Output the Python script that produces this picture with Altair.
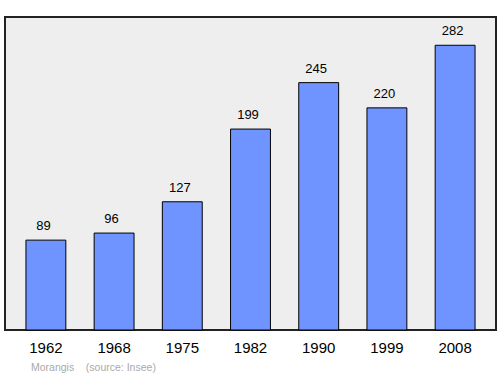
import altair as alt
import pandas as pd

years = ["1962", "1968", "1975", "1982", "1990", "1999", "2008"]
population = [89, 96, 127, 199, 245, 220, 282]

df = pd.DataFrame({"year": years, "pop": population})

base = alt.Chart(df).encode(
    x=alt.X("year:N", sort=years,
            scale=alt.Scale(paddingInner=0.415, paddingOuter=0.307),
            axis=alt.Axis(title=None, labelAngle=0, ticks=False, domain=False,
                          labelFont="Liberation Sans", labelFontSize=15,
                          labelColor="#000000", labelPadding=10)),
    y=alt.Y("pop:Q", scale=alt.Scale(domain=[0, 310], nice=False),
            axis=None),
)

bars = base.mark_bar(color="#7094ff", stroke="#000000", strokeWidth=1)
labels = base.mark_text(dy=-14, dx=-2.5, font="Liberation Sans", fontSize=13,
                        color="#000000").encode(text="pop:Q")

chart = (bars + labels).properties(
    width=491, height=313,
    autosize=alt.AutoSizeParams(type="none"),
    padding={"left": 5, "top": 17, "right": 4, "bottom": 44},
    title=alt.TitleParams(
        "Morangis\u00a0\u00a0\u00a0\u00a0(source: Insee)",
        orient="bottom", anchor="start", dx=26, offset=8,
        font="Liberation Sans", fontSize=10.5, fontWeight="normal",
        color="#aaaaaa"),
).configure_view(fill="#eeeeee", stroke="#222222", strokeWidth=2)

chart.save("out.html", embed_options={"renderer": "svg", "actions": False})
